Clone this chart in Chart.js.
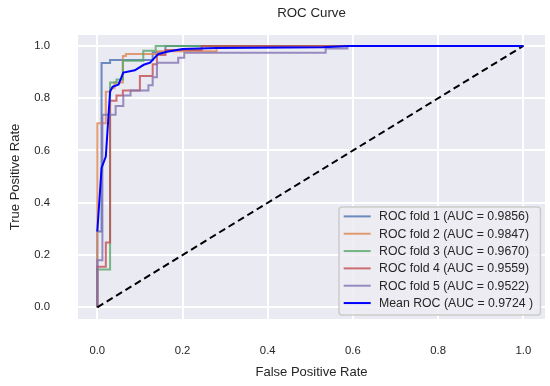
<!DOCTYPE html>
<html>
<head>
<meta charset="utf-8">
<script src="https://cdn.jsdelivr.net/npm/chart.js@4.4.0/dist/chart.umd.min.js"></script>
<style>
  html, body { margin: 0; padding: 0; background: #fff; }
  #wrap { width: 550px; height: 386px; }
</style>
</head>
<body>
<div id="wrap"><canvas id="roc" width="550" height="386"></canvas></div>
<script>
// Curva ROC - 5 folds + média

const fold1Fpr = [0, 0, 0.01, 0.01, 0.03, 0.03, 0.13, 0.13, 0.16, 0.16, 1];
const fold1Tpr = [0, 0.29, 0.29, 0.935, 0.935, 0.946, 0.946, 0.975, 0.975, 1, 1];

const fold2Fpr = [0, 0, 0.02, 0.02, 0.03, 0.03, 0.04, 0.04, 0.06, 0.06, 0.067, 0.067, 0.14, 0.14, 0.28, 0.28, 1];
const fold2Tpr = [0, 0.704, 0.704, 0.825, 0.825, 0.838, 0.838, 0.86, 0.86, 0.962, 0.962, 0.969, 0.969, 0.98, 0.98, 1, 1];

const fold3Fpr = [0, 0, 0.03, 0.03, 0.045, 0.045, 0.06, 0.06, 0.108, 0.108, 0.137, 0.137, 1];
const fold3Tpr = [0, 0.145, 0.145, 0.86, 0.86, 0.872, 0.872, 0.943, 0.943, 0.982, 0.982, 1, 1];

const fold4Fpr = [0, 0, 0.02, 0.02, 0.03, 0.03, 0.045, 0.045, 0.06, 0.06, 0.1, 0.1, 0.13, 0.13, 0.14, 0.14, 0.16, 0.16, 0.245, 0.245, 1];
const fold4Tpr = [0, 0.155, 0.155, 0.248, 0.248, 0.79, 0.79, 0.81, 0.81, 0.83, 0.83, 0.885, 0.885, 0.93, 0.93, 0.965, 0.965, 0.985, 0.985, 1, 1];

const fold5Fpr = [0, 0, 0.012, 0.012, 0.043, 0.043, 0.061, 0.061, 0.078, 0.078, 0.12, 0.12, 0.13, 0.13, 0.14, 0.14, 0.19, 0.19, 0.204, 0.204, 0.536, 0.536, 0.587, 0.587, 1];
const fold5Tpr = [0, 0.18, 0.18, 0.737, 0.737, 0.77, 0.77, 0.81, 0.81, 0.83, 0.83, 0.85, 0.85, 0.88, 0.88, 0.936, 0.936, 0.955, 0.955, 0.974, 0.974, 0.99, 0.99, 1, 1];

const meanFpr = [0, 0.01, 0.02, 0.03, 0.036, 0.05, 0.061, 0.088, 0.109, 0.124, 0.142, 0.163, 0.2, 0.28, 0.53, 0.59, 1];
const meanTpr = [0.29, 0.533, 0.577, 0.826, 0.844, 0.853, 0.898, 0.907, 0.928, 0.936, 0.968, 0.978, 0.988, 0.992, 0.995, 1, 1];

const chanceFpr = [0, 1];
const chanceTpr = [0, 1];

const foldLabels = [
  'ROC fold 1 (AUC = 0.9856)',
  'ROC fold 2 (AUC = 0.9847)',
  'ROC fold 3 (AUC = 0.9670)',
  'ROC fold 4 (AUC = 0.9559)',
  'ROC fold 5 (AUC = 0.9522)'
];
const meanLabel = 'Mean ROC (AUC = 0.9724 )';
const tickVals = [0, 0.2, 0.4, 0.6, 0.8, 1.0];

const coresFold = ['rgba(76,114,176,0.8)', 'rgba(221,132,82,0.8)', 'rgba(85,168,104,0.8)', 'rgba(196,78,82,0.8)', 'rgba(129,114,179,0.8)'];
const FONTE = "'Liberation Sans', Arial, sans-serif";

function pontos(fpr, tpr) {
  return fpr.map((x, i) => ({ x: x, y: tpr[i] }));
}

const foldsFpr = [fold1Fpr, fold2Fpr, fold3Fpr, fold4Fpr, fold5Fpr];
const foldsTpr = [fold1Tpr, fold2Tpr, fold3Tpr, fold4Tpr, fold5Tpr];

const datasets = foldsFpr.map((fpr, i) => ({
  label: foldLabels[i],
  data: pontos(fpr, foldsTpr[i]),
  borderColor: coresFold[i],
  borderWidth: 2,
  order: 6 - i
}));
datasets.push({
  label: meanLabel,
  data: pontos(meanFpr, meanTpr),
  borderColor: '#0000ff',
  borderWidth: 2,
  order: 0
});
datasets.push({
  label: '',
  data: pontos(chanceFpr, chanceTpr),
  borderColor: '#000',
  borderWidth: 2,
  borderDash: [7, 4],
  order: 1
});

// fundo cinza do seaborn
const fundo = {
  id: 'fundo',
  beforeDraw(chart) {
    const { ctx, chartArea: a } = chart;
    ctx.save();
    ctx.fillStyle = '#eaeaf2';
    ctx.fillRect(a.left, a.top, a.right - a.left, a.bottom - a.top);
    ctx.restore();
  }
};

// legenda dentro do gráfico, canto inferior direito
const legenda = {
  id: 'legenda',
  afterDatasetsDraw(chart) {
    const { ctx, chartArea: a } = chart;
    const itens = chart.data.datasets.filter(d => d.label);
    const w = 201.5, h = 108, rowH = 17.33;
    const x0 = a.right - 4.5 - w, y0 = a.bottom - 4 - h;
    ctx.save();
    ctx.beginPath();
    const r = 3;
    ctx.moveTo(x0 + r, y0);
    ctx.lineTo(x0 + w - r, y0);
    ctx.quadraticCurveTo(x0 + w, y0, x0 + w, y0 + r);
    ctx.lineTo(x0 + w, y0 + h - r);
    ctx.quadraticCurveTo(x0 + w, y0 + h, x0 + w - r, y0 + h);
    ctx.lineTo(x0 + r, y0 + h);
    ctx.quadraticCurveTo(x0, y0 + h, x0, y0 + h - r);
    ctx.lineTo(x0, y0 + r);
    ctx.quadraticCurveTo(x0, y0, x0 + r, y0);
    ctx.closePath();
    ctx.fillStyle = 'rgba(236,236,242,0.85)';
    ctx.fill();
    ctx.strokeStyle = '#cccccc';
    ctx.lineWidth = 1.5;
    ctx.stroke();

    ctx.font = '12.3px ' + FONTE;
    ctx.textBaseline = 'middle';
    ctx.textAlign = 'left';
    itens.forEach((d, i) => {
      const y = y0 + 9.4 + i * rowH;
      ctx.strokeStyle = d.borderColor;
      ctx.lineWidth = 2;
      ctx.beginPath();
      ctx.moveTo(x0 + 4.7, y);
      ctx.lineTo(x0 + 31.7, y);
      ctx.stroke();
      ctx.fillStyle = '#262626';
      ctx.fillText(d.label, x0 + 40, y + 0.5);
    });
    ctx.restore();
  }
};

const ctx = document.getElementById('roc').getContext('2d');
new Chart(ctx, {
  type: 'scatter',
  data: { datasets: datasets },
  options: {
    responsive: false,
    animation: false,
    devicePixelRatio: 1,
    showLine: true,
    elements: { point: { radius: 0, hoverRadius: 0 }, line: { tension: 0, fill: false } },
    layout: { padding: { left: 0, right: 5, top: 0, bottom: 0 } },
    plugins: {
      legend: { display: false },
      tooltip: { enabled: false },
      title: {
        display: true,
        text: 'ROC Curve',
        fullSize: false,
        color: '#262626',
        font: { family: FONTE, size: 13.3, weight: 'normal', lineHeight: 1.2 },
        padding: { top: 5, bottom: 14 }
      }
    },
    scales: {
      x: {
        type: 'linear',
        min: -0.0453,
        max: 1.0509,
        afterBuildTicks: s => { s.ticks = tickVals.map(v => ({ value: v })); },
        afterFit: s => { s.height = 67; },
        // marcas invisíveis só para afastar os rótulos
        grid: { color: '#ffffff', lineWidth: 2, drawTicks: true, tickLength: 23, tickColor: 'rgba(0,0,0,0)' },
        border: { display: false },
        ticks: {
          color: '#262626',
          padding: 2,
          font: { family: FONTE, size: 11.3 },
          callback: v => v.toFixed(1)
        },
        title: {
          display: true,
          text: 'False Positive Rate',
          color: '#262626',
          font: { family: FONTE, size: 13 },
          padding: { top: 0, bottom: 5.5 }
        }
      },
      y: {
        type: 'linear',
        min: -0.0448,
        max: 1.0421,
        afterBuildTicks: s => { s.ticks = tickVals.map(v => ({ value: v })); },
        afterFit: s => { s.width = 78; },
        grid: { color: '#ffffff', lineWidth: 2, drawTicks: true, tickLength: 26, tickColor: 'rgba(0,0,0,0)' },
        border: { display: false },
        ticks: {
          color: '#262626',
          padding: 2,
          font: { family: FONTE, size: 11.3 },
          callback: v => v.toFixed(1)
        },
        title: {
          display: true,
          text: 'True Positive Rate',
          color: '#262626',
          font: { family: FONTE, size: 13 },
          padding: { top: 7.2, bottom: 0 }
        }
      }
    }
  },
  plugins: [fundo, legenda]
});
</script>
</body>
</html>
